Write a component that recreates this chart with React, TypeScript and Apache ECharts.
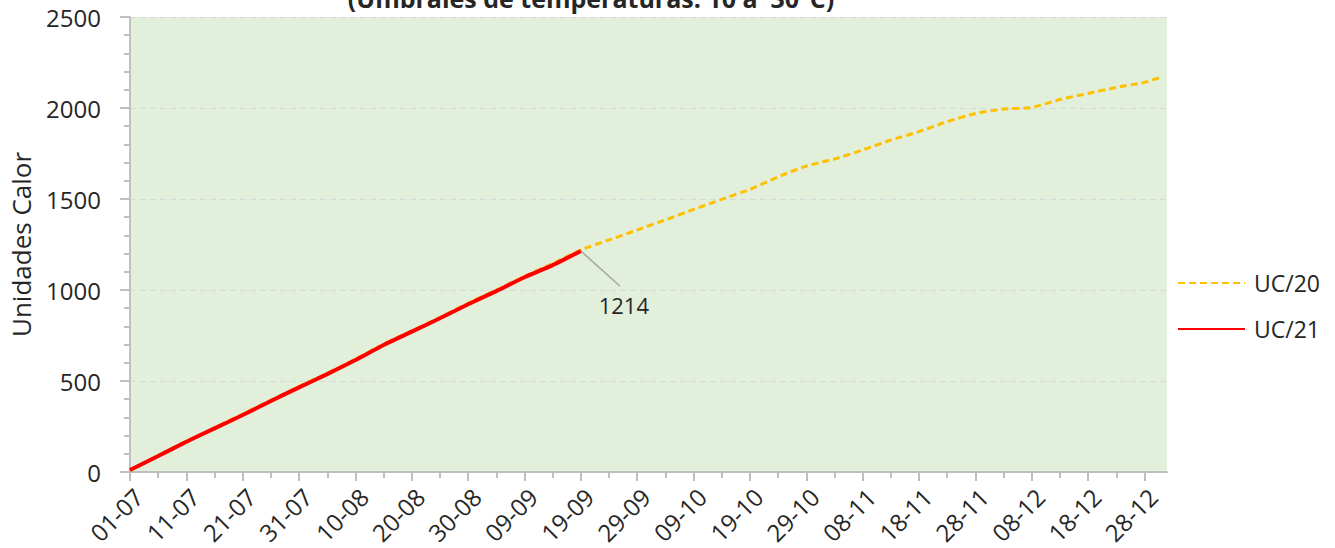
import React, { useEffect, useRef } from "react";
import * as echarts from "echarts";

// Category axis: days from 01-07 to 01-01
const monthDays: [string, number][] = [["07", 31], ["08", 31], ["09", 30], ["10", 31], ["11", 30], ["12", 31]];
const categories: string[] = [];
monthDays.forEach(([m, n]) => {
  for (let d = 1; d <= n; d++) categories.push(String(d).padStart(2, "0") + "-" + m);
});
categories.push("01-01");

// UC/20
const uc20Dates = [
  "01-07", "06-07", "11-07", "16-07", "21-07", "26-07", "31-07", "05-08", "10-08", "15-08",
  "20-08", "25-08", "30-08", "04-09", "09-09", "14-09", "19-09", "24-09", "29-09", "04-10",
  "09-10", "14-10", "19-10", "24-10", "29-10", "03-11", "08-11", "13-11", "18-11", "23-11",
  "28-11", "03-12", "08-12", "13-12", "18-12", "23-12", "28-12", "31-12",
];
const uc20Values = [
  10, 90, 168, 243, 318, 395, 470, 543, 620, 703,
  776, 850, 927, 1000, 1075, 1145, 1220, 1275, 1330, 1385,
  1443, 1498, 1553, 1622, 1681, 1720, 1769, 1824, 1870, 1925,
  1970, 1994, 2003, 2047, 2080, 2113, 2141, 2170,
];

// UC/21
const uc21Dates = [
  "01-07", "06-07", "11-07", "16-07", "21-07", "26-07", "31-07", "05-08", "10-08", "15-08",
  "20-08", "25-08", "30-08", "04-09", "09-09", "14-09", "19-09",
];
const uc21Values = [
  11, 88, 166, 240, 313, 390, 465, 538, 615, 698,
  771, 845, 922, 994, 1070, 1137, 1214,
];

const FONT = "Open Sans";
const TXT = "#262626";
const TITLE = "(Umbrales de temperaturas: 10 a  30°C)";

export default function App() {
  const ref = useRef<HTMLDivElement>(null);
  useEffect(() => {
    if (!ref.current) return;
    const chart = echarts.init(ref.current, undefined, { renderer: "svg" });
    const lastIdx = uc21Dates.length - 1;
    const uc21Data = uc21Dates.map((d, i) => {
      const v = uc21Values[i];
      if (i === lastIdx) {
        return {
          value: [d, v],
          label: {
            show: true,
            position: "bottom",
            distance: 5,
            formatter: String(v),
            fontFamily: FONT,
            fontSize: 22,
            color: TXT,
          },
        };
      }
      return { value: [d, v] };
    });
    const titleGraphic = {
      type: "text",
      x: 591,
      y: 10,
      style: {
        text: TITLE,
        fontFamily: FONT,
        fontSize: 25,
        fontWeight: "bold",
        fill: TXT,
        align: "center",
        verticalAlign: "bottom",
      },
    };
    const option: any = {
      animation: false,
      textStyle: { fontFamily: FONT },
      graphic: [titleGraphic],
      grid: {
        left: 130,
        right: 168,
        top: 17,
        bottom: 76,
        show: true,
        backgroundColor: "#E2EFDA",
        borderWidth: 0,
      },
      legend: {
        orient: "vertical",
        left: 1177,
        top: 271,
        padding: 0,
        itemWidth: 67,
        itemHeight: 24,
        itemGap: 22,
        itemStyle: { opacity: 0 },
        textStyle: { fontFamily: FONT, fontSize: 23, color: TXT, lineHeight: 24, padding: [0, 0, 0, 4] },
        data: ["UC/20", "UC/21"],
      },
      xAxis: [
        {
          type: "category",
          data: categories,
          boundaryGap: false,
          position: "bottom",
          axisLine: { show: true, lineStyle: { color: "#BFBFBF", width: 2 } },
          axisTick: { show: true, interval: 4, length: 6, lineStyle: { color: "#BFBFBF", width: 2 } },
          axisLabel: {
            interval: 9,
            rotate: 45,
            margin: 12,
            verticalAlign: "top",
            fontFamily: FONT,
            fontSize: 24,
            color: TXT,
          },
          splitLine: { show: false },
        },
        {
          type: "category",
          data: categories,
          boundaryGap: false,
          position: "bottom",
          axisLine: { show: false },
          axisTick: { show: true, interval: 9, length: 9, lineStyle: { color: "#BFBFBF", width: 2 } },
          axisLabel: { show: false },
          splitLine: { show: false },
        },
      ],
      yAxis: {
        type: "value",
        min: 0,
        max: 2500,
        interval: 500,
        name: "Unidades Calor",
        nameLocation: "middle",
        nameGap: 96,
        nameTextStyle: { fontFamily: FONT, fontSize: 26, color: TXT },
        axisLine: { show: true, lineStyle: { color: "#BFBFBF", width: 2 } },
        axisTick: { show: true, length: 10, lineStyle: { color: "#BFBFBF", width: 2 } },
        minorTick: { show: true, splitNumber: 5, length: 6, lineStyle: { color: "#BFBFBF", width: 2 } },
        axisLabel: { margin: 29, fontFamily: FONT, fontSize: 24, color: TXT, formatter: (v: number) => String(v) },
        splitLine: { show: true, lineStyle: { color: "#D9D9D9", type: [6, 4], width: 1 } },
      },
      series: [
        {
          name: "UC/20",
          type: "line",
          xAxisIndex: 0,
          data: uc20Dates.map((d, i) => [d, uc20Values[i]]),
          symbol: "none",
          smooth: 0.2,
          lineStyle: { color: "#FFC000", width: 3, type: [7, 4] },
          itemStyle: { color: "#FFC000" },
          z: 2,
        },
        {
          name: "UC/21",
          type: "line",
          xAxisIndex: 0,
          data: uc21Data,
          symbol: "circle",
          symbolSize: 1,
          showSymbol: true,
          smooth: 0.2,
          lineStyle: { color: "#FF0000", width: 4 },
          itemStyle: { color: "#FF0000" },
          labelLayout: { dx: 43, dy: 37 },
          z: 3,
        },
      ],
    };
    chart.setOption(option);
    // leader line for the data label, anchored on the last UC/21 point through the axes
    const p = chart.convertToPixel({ xAxisIndex: 0, yAxisIndex: 0 }, [uc21Dates[lastIdx], uc21Values[lastIdx]]);
    if (p) {
      chart.setOption({
        graphic: [
          titleGraphic,
          {
            type: "line",
            shape: { x1: p[0], y1: p[1], x2: p[0] + 39, y2: p[1] + 35 },
            style: { stroke: "#A6A6A6", lineWidth: 1.5 },
            z: 10,
          },
        ],
      });
    }
    return () => chart.dispose();
  }, []);
  return (
    <div
      ref={ref}
      style={{ position: "fixed", left: 0, top: 0, width: 1335, height: 548, background: "#fff" }}
    />
  );
}
